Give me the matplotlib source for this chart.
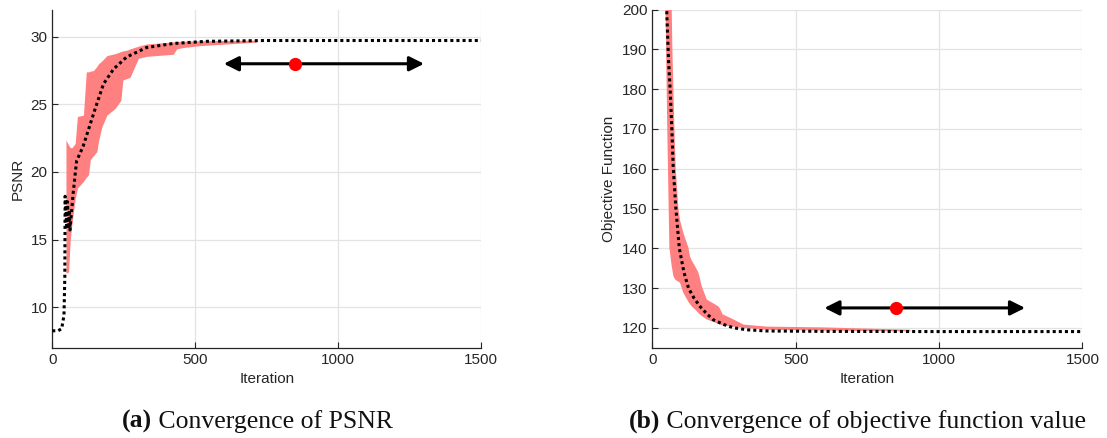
import numpy as np
import matplotlib
matplotlib.use('Agg')
import matplotlib.pyplot as plt

# PSNR run: mean curve and min/max band over the repeated runs
psnr_it = [0, 20, 33, 41, 44, 45, 50, 53, 57, 60, 62, 73, 85, 108, 149, 179, 214, 260, 330,
           423, 540, 750, 1000, 1500]
psnr_mean = [8.25, 8.25, 8.4, 9.4, 12.3, 18.2, 16.0, 17.8, 15.8, 17.2, 15.7, 18.4, 20.8, 21.9,
             24.6, 26.5, 27.6, 28.5, 29.2, 29.5, 29.66, 29.72, 29.72, 29.72]
psnr_band_it = [48, 57, 63, 69, 80, 88, 109, 119, 127, 133, 144, 156, 162, 173, 191, 220, 240, 247,
                260, 272, 301, 330, 423, 435, 458, 516, 714]
psnr_upper = [22.35, 22.0, 21.8, 21.8, 22.1, 24.1, 24.2, 27.4, 27.4, 27.45, 27.5, 27.8, 28.0, 28.2,
              28.6, 28.75, 28.9, 28.95, 29.0, 29.1, 29.3, 29.46, 29.62, 29.64, 29.66, 29.7, 29.75]
psnr_lower = [12.5, 12.6, 15.0, 16.2, 18.0, 18.8, 19.3, 19.6, 19.8, 20.9, 21.2, 21.5, 22.3, 23.3,
              24.2, 24.7, 25.3, 26.8, 26.9, 27.0, 28.4, 28.55, 28.7, 29.1, 29.2, 29.34, 29.6]

# objective function run
obj_it = [46, 50, 56, 62, 68, 73, 82, 94, 110, 126, 145, 166, 190, 213, 250, 283, 330, 399, 600,
          1000, 1500]
obj_mean = [240, 200, 188, 180, 170, 160, 150, 140, 134, 130, 127.5, 125.4, 123.5, 122, 120.8,
            120.0, 119.5, 119.2, 119.1, 119.05, 119.05]
obj_band_it = [46, 52, 59.4, 67.5, 69.9, 73.4, 76.9, 81.6, 90.9, 96.7, 108, 126, 131, 137, 149,
               160, 164, 172, 190, 230, 236, 245, 283, 318, 400, 600, 900]
obj_upper = [260, 240, 215, 200, 190, 180, 170, 160, 150, 147, 143.9, 140.1, 138, 137, 135.5,
             134, 133, 130.5, 127.1, 125.4, 124.8, 123.4, 122.1, 120.8, 120.3, 120.1, 119.5]
obj_lower = [200, 170, 140.1, 135.5, 134.5, 133, 132.5, 132, 131.6, 131.3, 128.8, 126.5, 126,
             125.4, 124.6, 123.8, 123.5, 123, 122.1, 121, 120.8, 120.6, 120.3, 120.0, 119.5,
             119.3, 119.1]

# marker with double arrow
arrow_x = [600, 1300]
dot_x = 850
psnr_arrow_y = 28
obj_arrow_y = 125

band_col = '#ff8080'
axis_col = '#262626'

plt.rcParams['font.family'] = ['Liberation Sans', 'DejaVu Sans']

fig = plt.figure(figsize=(11.07, 4.38), dpi=100)
ax1 = fig.add_axes([0.0472, 0.2062, 0.3875, 0.7717])
ax2 = fig.add_axes([0.5893, 0.2062, 0.3885, 0.7717])


def style(ax):
    ax.grid(True, color='#e3e3e3', lw=0.9)
    ax.set_axisbelow(True)
    for s in ['top', 'right']:
        ax.spines[s].set_visible(False)
    for s in ['left', 'bottom']:
        ax.spines[s].set_color(axis_col)
        ax.spines[s].set_linewidth(0.9)
    ax.tick_params(direction='in', length=4, width=0.8, color=axis_col,
                   labelcolor=axis_col, labelsize=11)
    ax.set_xlim(0, 1500)
    ax.set_xticks([0, 500, 1000, 1500])
    ax.set_xlabel('Iteration', fontsize=11, color=axis_col, labelpad=4)


def arrow(ax, y):
    ax.annotate('', xy=(arrow_x[0], y), xytext=(arrow_x[1], y),
                arrowprops=dict(arrowstyle='<|-|>', color='black', lw=2.2,
                                mutation_scale=22, shrinkA=0, shrinkB=0), zorder=5)
    ax.plot(dot_x, y, 'o', color='red', markersize=8.5, zorder=6)


# (a) PSNR
style(ax1)
ax1.fill_between(psnr_band_it, psnr_lower, psnr_upper, color=band_col, lw=0, zorder=2)
ax1.plot(psnr_it, psnr_mean, color='black', lw=2.2, ls=(0, (1, 1)), zorder=3)
ax1.set_ylim(7, 32)
ax1.set_yticks([10, 15, 20, 25, 30])
ax1.set_ylabel('PSNR', fontsize=11, color=axis_col, labelpad=4)
arrow(ax1, psnr_arrow_y)

# (b) objective function
style(ax2)
ax2.fill_between(obj_band_it, obj_lower, obj_upper, color=band_col, lw=0, zorder=2)
ax2.plot(obj_it, obj_mean, color='black', lw=2.2, ls=(0, (1, 1)), zorder=3)
ax2.set_ylim(115, 200)
ax2.set_yticks(np.arange(120, 201, 10))
ax2.set_ylabel('Objective Function', fontsize=11, color=axis_col, labelpad=4)
arrow(ax2, obj_arrow_y)

# sub-captions, bold tag followed by regular text
cap_font = ['Liberation Serif', 'DejaVu Serif']
for ax, cx, tag, txt in [(ax1, 0.110, '(a)', ' Convergence of PSNR'),
                         (ax2, 0.568, '(b)', ' Convergence of objective function value')]:
    t = fig.text(cx, 1 - 428 / 438, tag, fontsize=18.5, fontweight='bold',
                 family=cap_font, color='#111111', va='baseline')
    ax.annotate(txt, xy=(1, 0), xycoords=t, va='bottom', ha='left',
                fontsize=18.5, family=cap_font, color='#111111', annotation_clip=False)

fig.savefig('out.png', dpi=100)
